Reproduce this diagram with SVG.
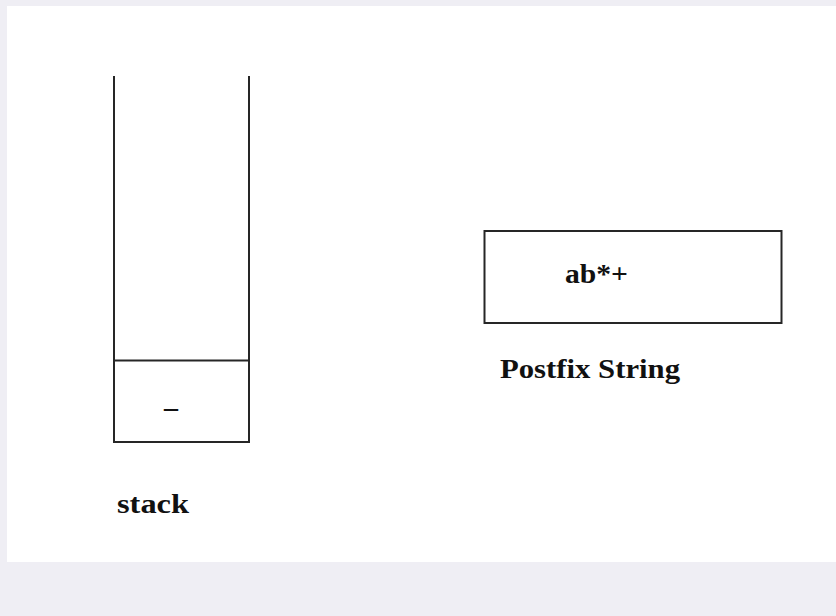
<svg xmlns="http://www.w3.org/2000/svg" width="836" height="616" viewBox="0 0 836 616">
<style>
.ln{stroke:#262626;stroke-width:2;fill:none}
.t{font-family:"Liberation Serif","Times New Roman",serif;font-weight:bold;fill:#111}
</style>
<rect x="0" y="0" width="836" height="616" fill="#efeef4"/>
<rect x="7" y="6" width="829" height="556" fill="#ffffff"/>
<g id="stack">
<path class="ln" d="M114,76 V442 H249 V76"/>
<line class="ln" x1="114" y1="360.5" x2="249" y2="360.5"/>
<text class="t" x="171" y="416" font-size="28" text-anchor="middle">–</text>
<text class="t" x="117" y="513" font-size="28" textLength="72" lengthAdjust="spacingAndGlyphs">stack</text>
</g>
<g id="postfix">
<rect class="ln" x="484.5" y="231" width="297" height="92"/>
<text class="t" x="565" y="283" font-size="28" textLength="63" lengthAdjust="spacingAndGlyphs">ab*+</text>
<text class="t" x="500" y="378" font-size="28" textLength="180" lengthAdjust="spacingAndGlyphs">Postfix String</text>
</g>
<g id="connectors"/>
</svg>
